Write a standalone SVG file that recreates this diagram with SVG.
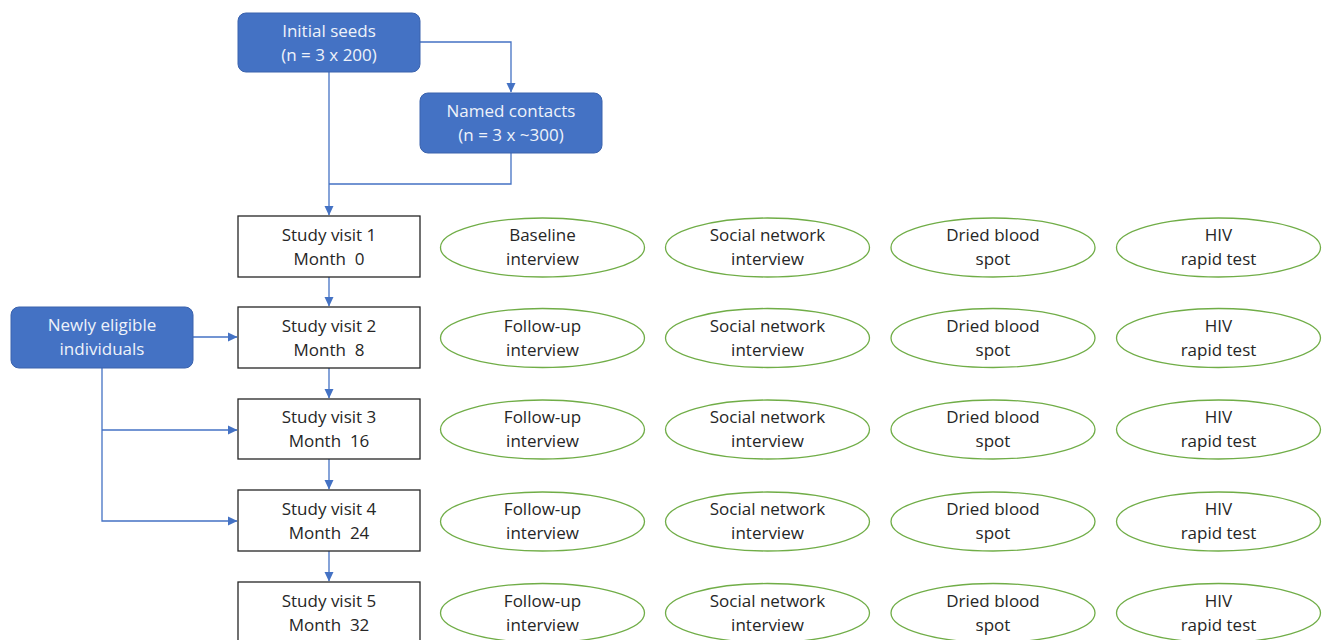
<svg xmlns="http://www.w3.org/2000/svg" width="1323" height="640" viewBox="0 0 1323 640">
<style>
.blue{fill:#4472C4;stroke:#3A62AD;stroke-width:1}
.box{fill:#FFFFFF;stroke:#262626;stroke-width:1.3}
.ell{fill:#FFFFFF;stroke:#70AD47;stroke-width:1.3}
.conn{fill:none;stroke:#4472C4;stroke-width:1.3}
text{font-family:"Open Sans","Liberation Sans",sans-serif;font-size:17px;text-anchor:middle;white-space:pre}
.wt{fill:#EEF2FA}
.dt{fill:#262626}
</style>
<defs>
<marker id="ah" markerWidth="10" markerHeight="10" refX="9" refY="5" orient="auto" markerUnits="userSpaceOnUse">
<path d="M0,0.5 L9.5,5 L0,9.5 Z" fill="#4472C4"/>
</marker>
</defs>
<rect width="1323" height="640" fill="#FFFFFF"/>
<g id="connectors">
<path class="conn" d="M420,42 H511 V92" marker-end="url(#ah)"/>
<path class="conn" d="M329,72 V215" marker-end="url(#ah)"/>
<path class="conn" d="M511,153 V184 H329"/>
<path class="conn" d="M329,277 V306" marker-end="url(#ah)"/>
<path class="conn" d="M329,368 V398" marker-end="url(#ah)"/>
<path class="conn" d="M329,459 V489" marker-end="url(#ah)"/>
<path class="conn" d="M329,551 V581" marker-end="url(#ah)"/>
<path class="conn" d="M193,337 H237" marker-end="url(#ah)"/>
<path class="conn" d="M102,368 V521 H237" marker-end="url(#ah)"/>
<path class="conn" d="M102,430 H237" marker-end="url(#ah)"/>
</g>
<g id="initial-seeds">
<rect class="blue" x="238" y="13" width="182" height="59" rx="8"/>
<text class="wt" x="329" y="37">Initial seeds</text>
<text class="wt" x="329" y="61">(n = 3 x 200)</text>
</g>
<g id="named-contacts">
<rect class="blue" x="420" y="93" width="182" height="60" rx="8"/>
<text class="wt" x="511" y="117">Named contacts</text>
<text class="wt" x="511" y="141">(n = 3 x ~300)</text>
</g>
<g id="newly-eligible">
<rect class="blue" x="11" y="307" width="182" height="61" rx="8"/>
<text class="wt" x="102" y="331">Newly eligible</text>
<text class="wt" x="102" y="355">individuals</text>
</g>
<g id="visit1">
<rect class="box" x="238" y="216" width="182" height="61"/>
<text class="dt" x="329" y="241">Study visit 1</text>
<text class="dt" x="329" y="265">Month  0</text>
</g>
<g id="visit2">
<rect class="box" x="238" y="307" width="182" height="61"/>
<text class="dt" x="329" y="332">Study visit 2</text>
<text class="dt" x="329" y="356">Month  8</text>
</g>
<g id="visit3">
<rect class="box" x="238" y="399" width="182" height="60"/>
<text class="dt" x="329" y="423">Study visit 3</text>
<text class="dt" x="329" y="447">Month  16</text>
</g>
<g id="visit4">
<rect class="box" x="238" y="490" width="182" height="61"/>
<text class="dt" x="329" y="515">Study visit 4</text>
<text class="dt" x="329" y="539">Month  24</text>
</g>
<g id="visit5">
<rect class="box" x="238" y="582" width="182" height="61"/>
<text class="dt" x="329" y="607">Study visit 5</text>
<text class="dt" x="329" y="631">Month  32</text>
</g>
<g id="r1-interview"><ellipse class="ell" cx="542.5" cy="247.5" rx="102" ry="29.5"/><text class="dt" x="542.5" y="241">Baseline</text><text class="dt" x="542.5" y="265">interview</text></g>
<g id="r1-social"><ellipse class="ell" cx="767.5" cy="247.5" rx="102" ry="29.5"/><text class="dt" x="767.5" y="241">Social network</text><text class="dt" x="767.5" y="265">interview</text></g>
<g id="r1-dbs"><ellipse class="ell" cx="993" cy="247.5" rx="102" ry="29.5"/><text class="dt" x="993" y="241">Dried blood</text><text class="dt" x="993" y="265">spot</text></g>
<g id="r1-hiv"><ellipse class="ell" cx="1218.5" cy="247.5" rx="102" ry="29.5"/><text class="dt" x="1218.5" y="241">HIV</text><text class="dt" x="1218.5" y="265">rapid test</text></g>
<g id="r2-interview"><ellipse class="ell" cx="542.5" cy="338" rx="102" ry="29.5"/><text class="dt" x="542.5" y="332">Follow-up</text><text class="dt" x="542.5" y="356">interview</text></g>
<g id="r2-social"><ellipse class="ell" cx="767.5" cy="338" rx="102" ry="29.5"/><text class="dt" x="767.5" y="332">Social network</text><text class="dt" x="767.5" y="356">interview</text></g>
<g id="r2-dbs"><ellipse class="ell" cx="993" cy="338" rx="102" ry="29.5"/><text class="dt" x="993" y="332">Dried blood</text><text class="dt" x="993" y="356">spot</text></g>
<g id="r2-hiv"><ellipse class="ell" cx="1218.5" cy="338" rx="102" ry="29.5"/><text class="dt" x="1218.5" y="332">HIV</text><text class="dt" x="1218.5" y="356">rapid test</text></g>
<g id="r3-interview"><ellipse class="ell" cx="542.5" cy="429.5" rx="102" ry="29.5"/><text class="dt" x="542.5" y="423">Follow-up</text><text class="dt" x="542.5" y="447">interview</text></g>
<g id="r3-social"><ellipse class="ell" cx="767.5" cy="429.5" rx="102" ry="29.5"/><text class="dt" x="767.5" y="423">Social network</text><text class="dt" x="767.5" y="447">interview</text></g>
<g id="r3-dbs"><ellipse class="ell" cx="993" cy="429.5" rx="102" ry="29.5"/><text class="dt" x="993" y="423">Dried blood</text><text class="dt" x="993" y="447">spot</text></g>
<g id="r3-hiv"><ellipse class="ell" cx="1218.5" cy="429.5" rx="102" ry="29.5"/><text class="dt" x="1218.5" y="423">HIV</text><text class="dt" x="1218.5" y="447">rapid test</text></g>
<g id="r4-interview"><ellipse class="ell" cx="542.5" cy="521.5" rx="102" ry="29.5"/><text class="dt" x="542.5" y="515">Follow-up</text><text class="dt" x="542.5" y="539">interview</text></g>
<g id="r4-social"><ellipse class="ell" cx="767.5" cy="521.5" rx="102" ry="29.5"/><text class="dt" x="767.5" y="515">Social network</text><text class="dt" x="767.5" y="539">interview</text></g>
<g id="r4-dbs"><ellipse class="ell" cx="993" cy="521.5" rx="102" ry="29.5"/><text class="dt" x="993" y="515">Dried blood</text><text class="dt" x="993" y="539">spot</text></g>
<g id="r4-hiv"><ellipse class="ell" cx="1218.5" cy="521.5" rx="102" ry="29.5"/><text class="dt" x="1218.5" y="515">HIV</text><text class="dt" x="1218.5" y="539">rapid test</text></g>
<g id="r5-interview"><ellipse class="ell" cx="542.5" cy="613" rx="102" ry="29.5"/><text class="dt" x="542.5" y="607">Follow-up</text><text class="dt" x="542.5" y="631">interview</text></g>
<g id="r5-social"><ellipse class="ell" cx="767.5" cy="613" rx="102" ry="29.5"/><text class="dt" x="767.5" y="607">Social network</text><text class="dt" x="767.5" y="631">interview</text></g>
<g id="r5-dbs"><ellipse class="ell" cx="993" cy="613" rx="102" ry="29.5"/><text class="dt" x="993" y="607">Dried blood</text><text class="dt" x="993" y="631">spot</text></g>
<g id="r5-hiv"><ellipse class="ell" cx="1218.5" cy="613" rx="102" ry="29.5"/><text class="dt" x="1218.5" y="607">HIV</text><text class="dt" x="1218.5" y="631">rapid test</text></g>
</svg>
